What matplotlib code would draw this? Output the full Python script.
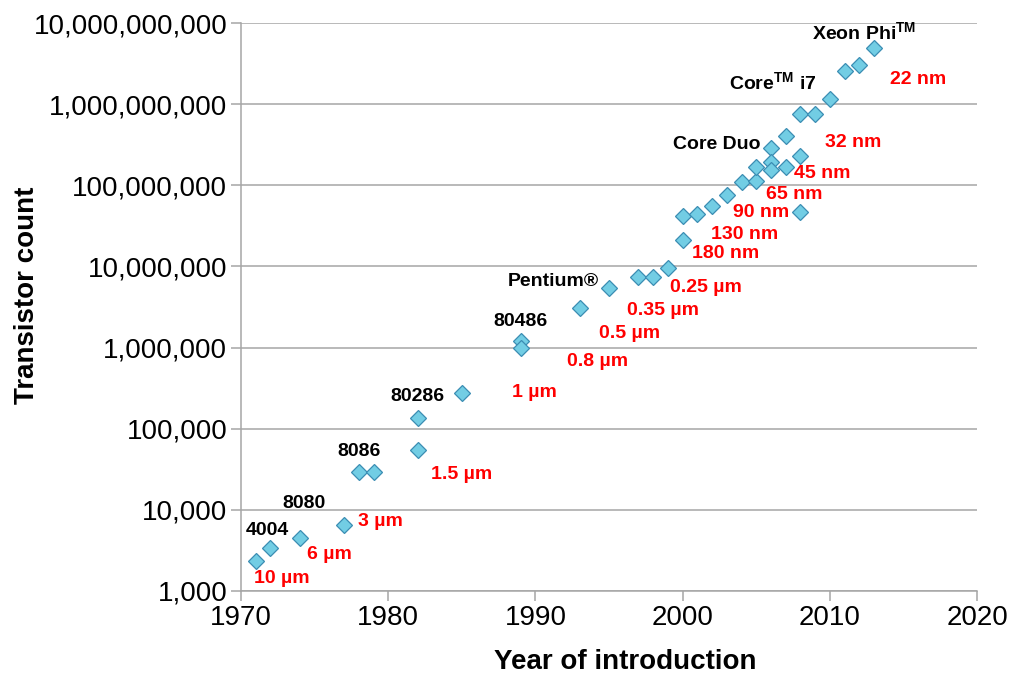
import numpy as np
import matplotlib
matplotlib.use('Agg')
import matplotlib.pyplot as plt
from matplotlib.ticker import FuncFormatter, FixedLocator

plt.rcParams['font.family'] = ['Liberation Sans', 'DejaVu Sans']
plt.rcParams['mathtext.fontset'] = 'custom'
plt.rcParams['mathtext.rm'] = 'Liberation Sans'
plt.rcParams['mathtext.bf'] = 'Liberation Sans:bold'

# processors: year of introduction and transistor count
years = [1971, 1972, 1974, 1977, 1978, 1979, 1982, 1982, 1985, 1989, 1989,
         1993, 1995, 1997, 1998, 1999, 2000, 2000, 2001, 2002, 2003, 2004,
         2005, 2005, 2006, 2006, 2006, 2007, 2007, 2008, 2008, 2008, 2009,
         2010, 2011, 2012, 2013]
counts = [2300, 3400, 4500, 6500, 29000, 29000, 55000, 134000, 275000,
          1200000, 1000000, 3100000, 5500000, 7500000, 7500000, 9500000,
          21000000, 42000000, 44000000, 55000000, 76000000, 110000000,
          112000000, 168000000, 291000000, 194000000, 156000000, 168000000,
          403000000, 228000000, 47000000, 767000000, 767000000, 1150000000,
          2580000000, 3100000000, 5000000000]

# processor family names (black)
chip_names = ['4004', '8080', '8086', '80286', '80486', 'Pentium\u00ae',
              'Core Duo', r'Core$^{\mathbf{TM}}$ i7', r'Xeon Phi$^{\mathbf{TM}}$']
chip_x = [1971.8, 1974.3, 1978.0, 1982.0, 1989.0, 1991.2, 2002.3, 2006.1, 2012.3]
chip_y = [5500, 11900, 52000, 248000, 2.09e6, 6.5e6, 3.21e8, 1.87e9, 7.74e9]

# process nodes (red)
node_names = ['10 \u00b5m', '6 \u00b5m', '3 \u00b5m', '1.5 \u00b5m', '1 \u00b5m',
              '0.8 \u00b5m', '0.5 \u00b5m', '0.35 \u00b5m', '0.25 \u00b5m',
              '180 nm', '130 nm', '90 nm', '65 nm', '45 nm', '32 nm', '22 nm']
node_x = [1972.8, 1976.0, 1979.5, 1985.0, 1989.9, 1994.25, 1996.4, 1998.7,
          2001.6, 2002.95, 2004.2, 2005.3, 2007.6, 2009.5, 2011.6, 2016.0]
node_y = [1406, 2780, 7110, 27000, 278000, 671000, 1.49e6, 2.86e6, 5.5e6,
          1.45e7, 2.48e7, 4.64e7, 7.74e7, 1.4e8, 3.4e8, 2.04e9]

fig = plt.figure(figsize=(10.09, 6.76), dpi=100)
ax = fig.add_axes([0.2389, 0.1262, 0.7294, 0.8393])

ax.plot(years, counts, linestyle='none', marker='D', markersize=8.4,
        markerfacecolor='#72CDE4', markeredgecolor='#3B8DB3',
        markeredgewidth=0.9, zorder=3)

ax.set_yscale('log')
ax.set_ylim(1e3, 1e10)
ax.set_xlim(1970, 2020)
ax.yaxis.set_major_locator(FixedLocator([10.0 ** k for k in range(3, 11)]))
ax.yaxis.set_minor_locator(FixedLocator([]))
ax.yaxis.set_major_formatter(FuncFormatter(lambda v, p: '{:,.0f}'.format(v)))
ax.set_xticks(range(1970, 2021, 10))

ax.grid(axis='y', color='#A6A6A6', linewidth=1.1)
ax.set_axisbelow(True)
for s in ['top', 'right']:
    ax.spines[s].set_visible(False)
for s in ['left', 'bottom']:
    ax.spines[s].set_color('#A6A6A6')
    ax.spines[s].set_linewidth(1.1)
ax.tick_params(axis='both', length=7, width=1.1, color='#A6A6A6',
               labelsize=20, pad=3)

ax.set_xlabel('Year of introduction', fontsize=20, fontweight='bold')
ax.set_ylabel('Transistor count', fontsize=20, fontweight='bold')
ax.xaxis.set_label_coords(0.522, -0.103)
ax.yaxis.set_label_coords(-0.273, 0.521)

for name, x, y in zip(chip_names, chip_x, chip_y):
    ax.text(x, y, name, color='black', fontsize=14, fontweight='bold',
            ha='center', va='center', zorder=4)
for name, x, y in zip(node_names, node_x, node_y):
    ax.text(x, y, name, color='#FF0000', fontsize=14, fontweight='bold',
            ha='center', va='center', zorder=4)

fig.savefig('out.png', dpi=100)
